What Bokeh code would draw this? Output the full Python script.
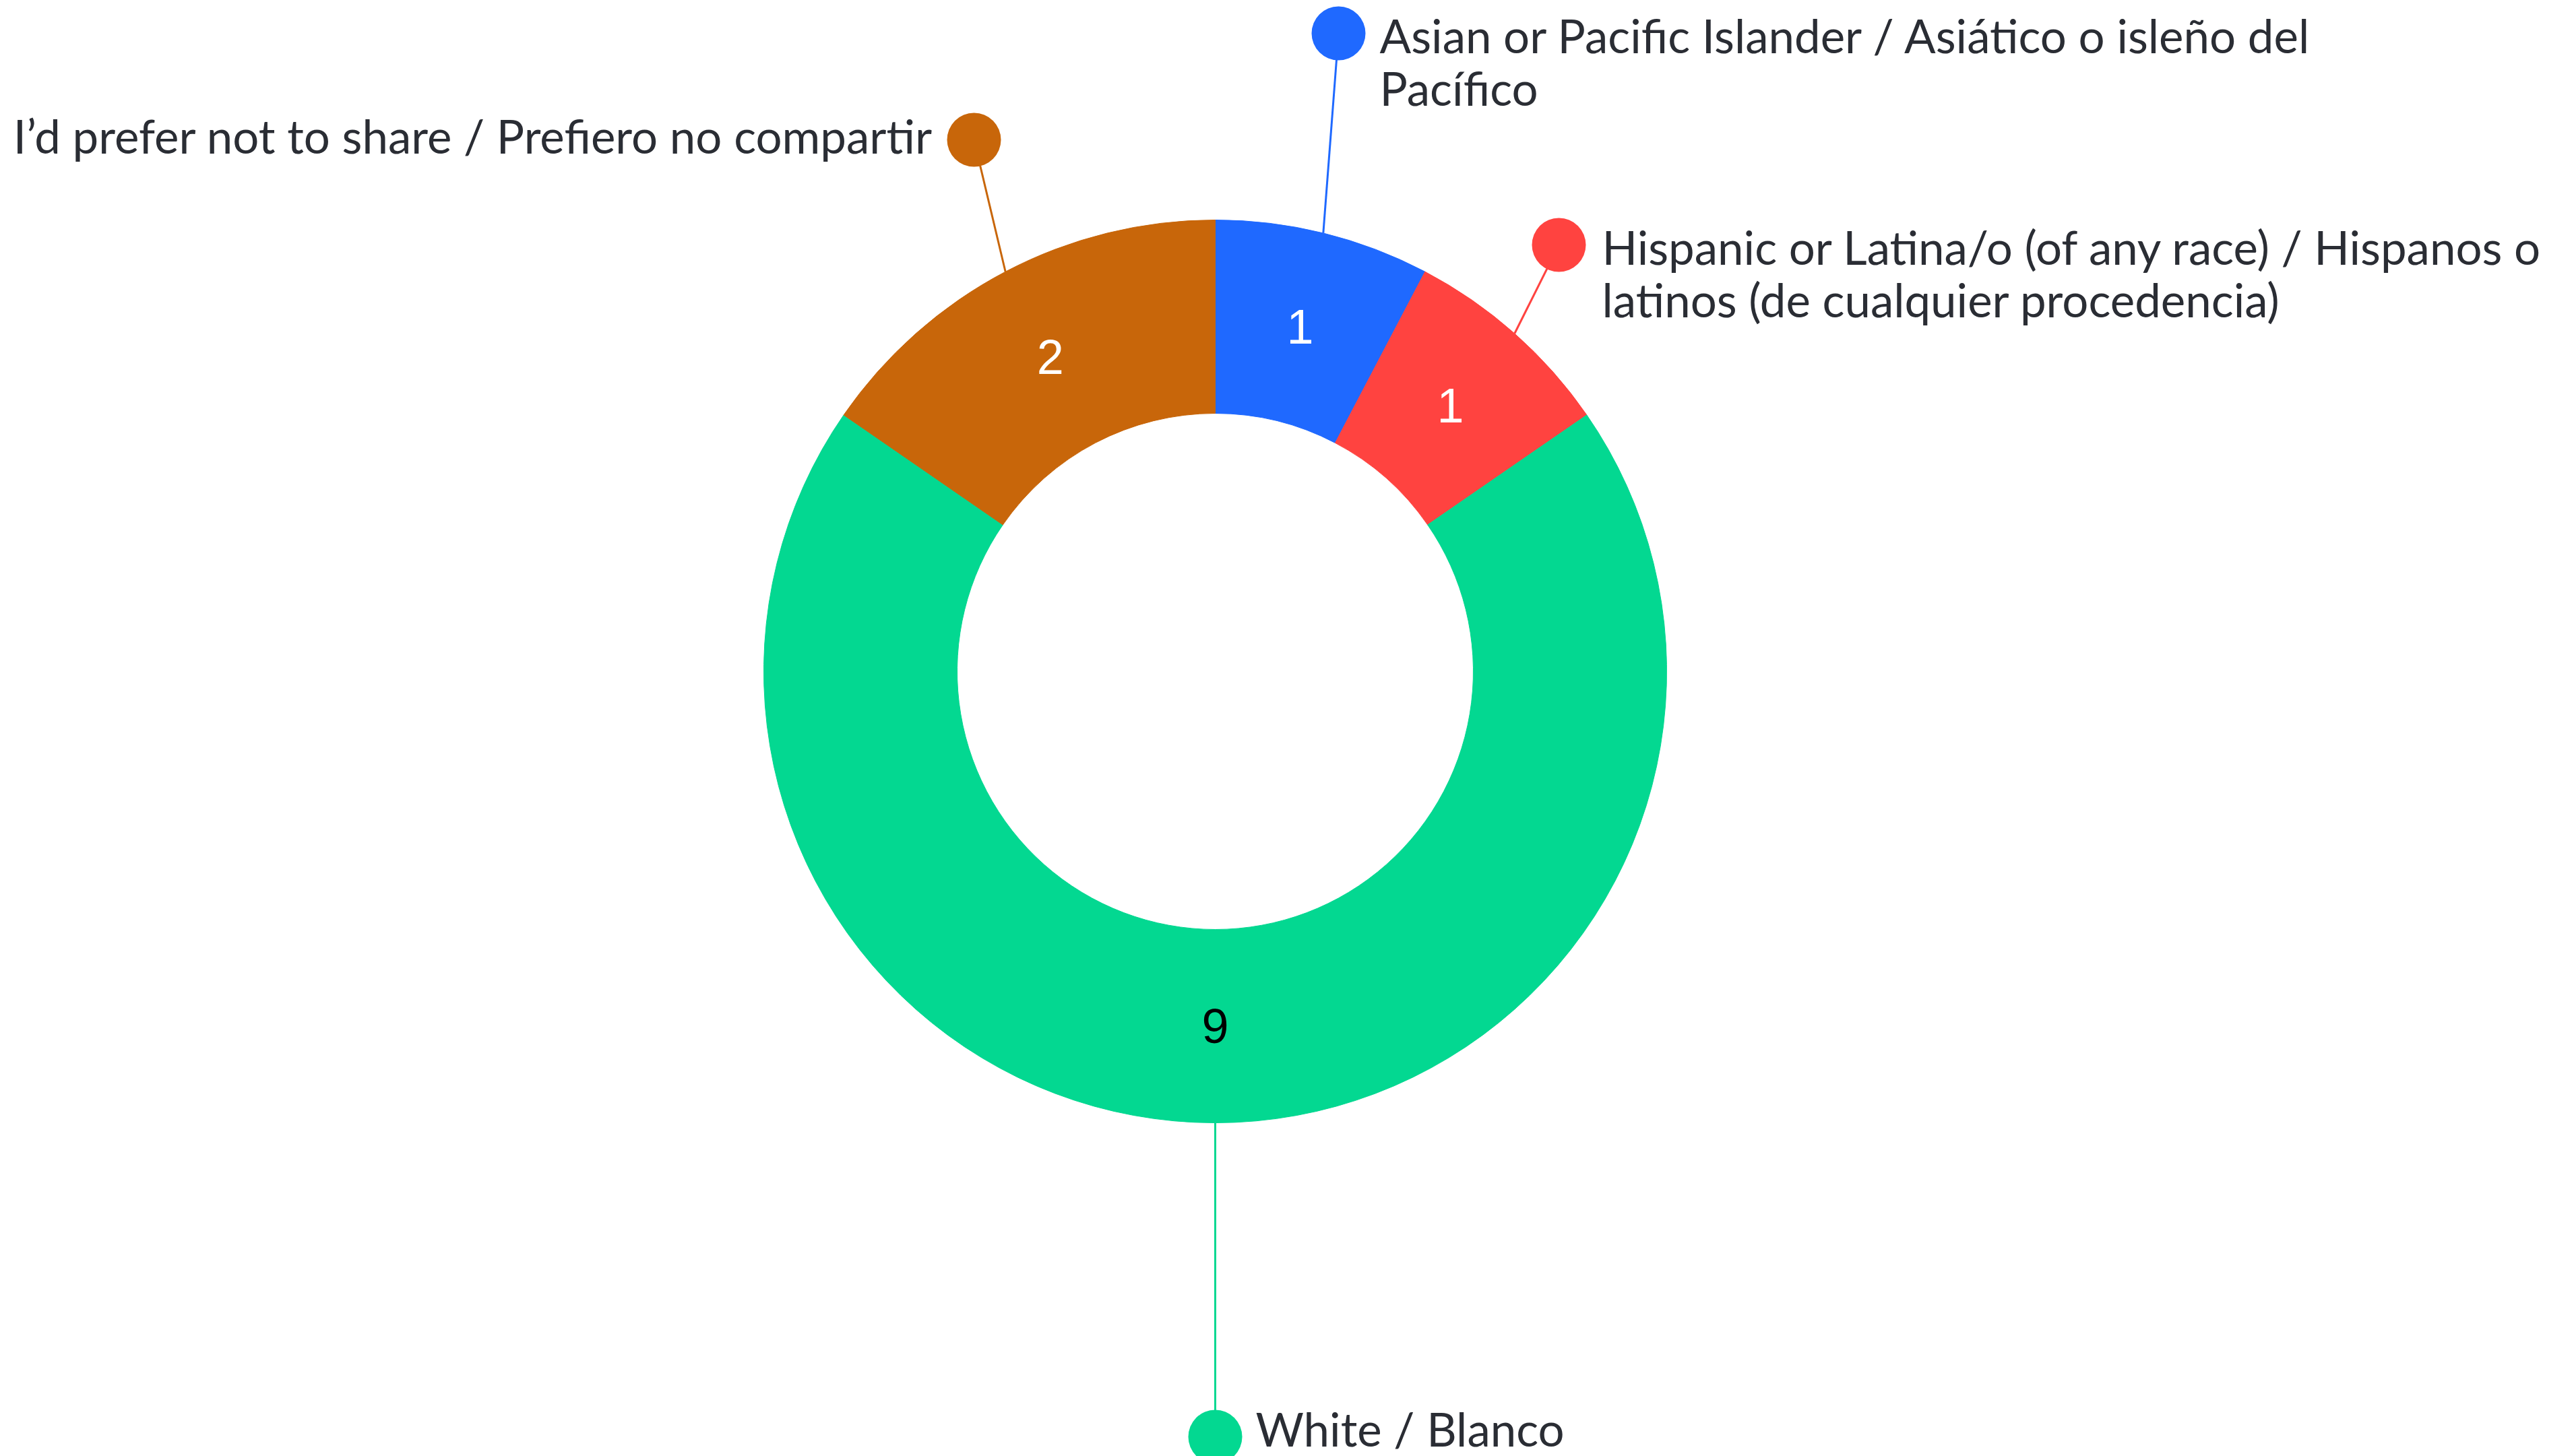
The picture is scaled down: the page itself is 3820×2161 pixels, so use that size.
import math
from bokeh.plotting import figure
from bokeh.models import Range1d, ColumnDataSource
from bokeh.core.properties import value
from bokeh.embed import file_html
from bokeh.resources import INLINE

# ---- data ----
categories = [
    "Asian or Pacific Islander / Asiático o isleño del\nPacífico",
    "Hispanic or Latina/o (of any race) / Hispanos o\nlatinos (de cualquier procedencia)",
    "White / Blanco",
    "I\u2019d prefer not to share / Prefiero no compartir",
]
counts = [1, 1, 9, 2]
colors = ["#1F69FF", "#FF4340", "#03D891", "#C8660A"]
value_text_colors = ["#FFFFFF", "#FFFFFF", "#000000", "#FFFFFF"]

# ---- layout (reference pixel coordinates) ----
W, H = 3820, 2161
CX, CY = 1803, 996
R_OUT, R_IN = 670, 383
dot_pos = [(1986, 49), (2313, 363), (1803, 2132), (1445, 207)]
text_x = [2047, 2377, 1863, 1384]
text_align = ["left", "left", "left", "right"]
text_dy = [-39, -39, -12, -6]
FONT = "Lato"
FS = 69
LINE_H = 0.95
FIG_W, FIG_H = W, H


def fy(y):
    return H - y


p = figure(width=FIG_W, height=FIG_H, output_backend="svg", toolbar_location=None,
           x_range=Range1d(0, FIG_W), y_range=Range1d(H - FIG_H, H), min_border=0)
p.axis.visible = False
p.grid.visible = False
p.outline_line_color = None
p.background_fill_color = "white"
p.border_fill_color = "white"

total = sum(counts)
starts, ends, mids = [], [], []
acc = 0
for c in counts:
    a0 = math.pi / 2 - 2 * math.pi * acc / total
    acc += c
    a1 = math.pi / 2 - 2 * math.pi * acc / total
    starts.append(a0)
    ends.append(a1)
    mids.append((a0 + a1) / 2)

cy = fy(CY)
src = ColumnDataSource(dict(start=starts, end=ends, color=colors))
p.annular_wedge(x=CX, y=cy, inner_radius=R_IN, outer_radius=R_OUT,
                start_angle="start", end_angle="end", direction="clock",
                fill_color="color", line_color="color", line_width=1, source=src)

# value labels
r_mid = (R_IN + R_OUT) / 2
vx = [CX + r_mid * math.cos(m) for m in mids]
vy = [cy + r_mid * math.sin(m) for m in mids]
p.text(x=vx, y=vy, text=[str(c) for c in counts], text_color=value_text_colors,
       text_font=value("Liberation Sans"), text_font_size="72px",
       text_align="center", text_baseline="middle")

# leader lines + dots + labels
for i, cat in enumerate(categories):
    ex = CX + R_OUT * math.cos(mids[i])
    ey = cy + R_OUT * math.sin(mids[i])
    dx, dy = dot_pos[i]
    p.line([ex, dx], [ey, fy(dy)], line_color=colors[i], line_width=3)
    p.scatter([dx], [fy(dy)], size=80, marker="circle", fill_color=colors[i], line_color=None)
    p.text(x=[text_x[i]], y=[fy(dy)], text=[cat],
           text_font=value(FONT), text_font_size=f"{FS}px", text_color="#2A2D34",
           text_align=text_align[i], text_baseline="middle" if "\n" not in cat else "top",
           y_offset=text_dy[i], text_line_height=LINE_H)

open("out.html", "w").write(file_html(p, INLINE))
